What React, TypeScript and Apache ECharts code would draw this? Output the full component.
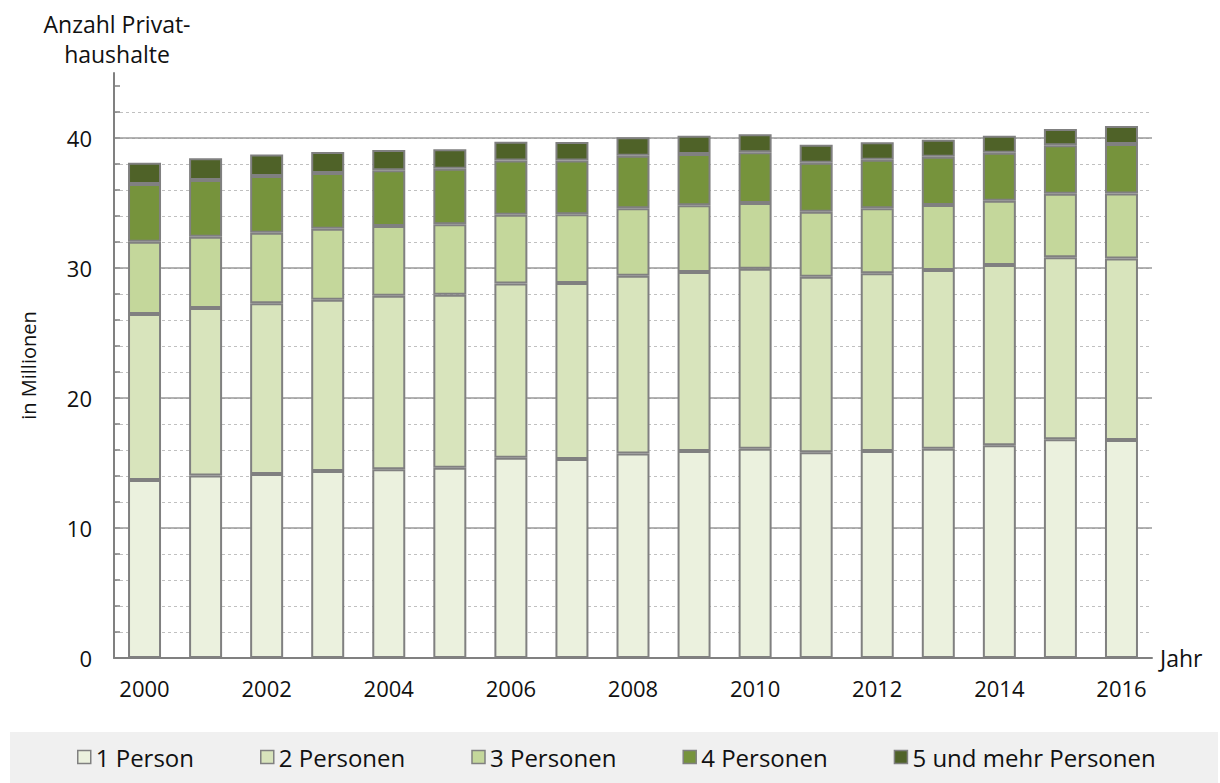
import React, { useEffect, useRef } from "react";
import * as echarts from "echarts";

const years = ["2000", "2001", "2002", "2003", "2004", "2005", "2006", "2007", "2008", "2009", "2010", "2011", "2012", "2013", "2014", "2015", "2016"];
const onePerson = [13.69, 14.03, 14.15, 14.38, 14.51, 14.64, 15.41, 15.31, 15.74, 15.92, 16.10, 15.82, 15.92, 16.10, 16.36, 16.82, 16.77];
const twoPersons = [12.77, 12.89, 13.13, 13.18, 13.36, 13.31, 13.39, 13.54, 13.67, 13.77, 13.85, 13.51, 13.67, 13.75, 13.87, 14.00, 13.97];
const threePersons = [5.56, 5.49, 5.44, 5.46, 5.36, 5.41, 5.30, 5.28, 5.18, 5.13, 5.05, 5.00, 5.00, 5.00, 4.95, 4.90, 5.00];
const fourPersons = [4.44, 4.36, 4.36, 4.29, 4.28, 4.28, 4.16, 4.13, 4.05, 3.95, 3.90, 3.77, 3.74, 3.71, 3.69, 3.72, 3.80];
const fivePlus = [1.64, 1.67, 1.66, 1.61, 1.57, 1.49, 1.46, 1.43, 1.41, 1.41, 1.38, 1.39, 1.34, 1.31, 1.31, 1.25, 1.38];

const seriesNames = ["1 Person", "2 Personen", "3 Personen", "4 Personen", "5 und mehr Personen"];
const seriesColors = ["#EBF1DE", "#D8E4BC", "#C4D79B", "#76933C", "#4F6228"];
const minorTickValues = [0, 2, 4, 6, 8, 10, 12, 14, 16, 18, 20, 22, 24, 26, 28, 30, 32, 34, 36, 38, 40, 42, 44];

const FONT = "'Open Sans', sans-serif";

export default function App() {
  const ref = useRef<HTMLDivElement>(null);
  useEffect(() => {
    if (!ref.current) return;
    const chart = echarts.init(ref.current, undefined, { renderer: "svg" });
    const data = [onePerson, twoPersons, threePersons, fourPersons, fivePlus];
    chart.setOption({
      animation: false,
      backgroundColor: "#ffffff",
      textStyle: { fontFamily: FONT },
      title: {
        text: "Anzahl Privat-\nhaushalte",
        left: 112,
        top: 4,
        textAlign: "center",
        textStyle: { fontFamily: FONT, fontSize: 23, fontWeight: "normal", color: "#111", lineHeight: 30 },
      },
      graphic: [
        {
          type: "rect",
          z: 0,
          shape: { x: 10, y: 732, width: 1208, height: 51 },
          style: { fill: "#F0F0F0" },
        },
      ],
      legend: {
        left: 77,
        top: 745,
        padding: 0,
        itemGap: 66,
        itemWidth: 13,
        itemHeight: 13,
        icon: "rect",
        itemStyle: { borderColor: "#808080", borderWidth: 1.5 },
        textStyle: { fontFamily: FONT, fontSize: 24, color: "#111", lineHeight: 24 },
        data: seriesNames,
      },
      grid: { left: 114, right: 68, top: 73, bottom: 125 },
      xAxis: {
        type: "category",
        data: years,
        name: "Jahr",
        nameLocation: "end",
        nameGap: 8,
        nameTextStyle: { fontFamily: FONT, fontSize: 23, color: "#111", verticalAlign: "middle" },
        axisLine: { lineStyle: { color: "#808080", width: 2 } },
        axisTick: { show: false },
        axisLabel: { interval: 1, fontSize: 22, color: "#111", margin: 19, fontFamily: FONT },
        splitLine: { show: false },
      },
      yAxis: [
        {
          type: "value",
          min: 0,
          max: 45,
          interval: 10,
          name: "in Millionen",
          nameLocation: "middle",
          nameRotate: 90,
          nameGap: 76,
          nameTextStyle: { fontFamily: FONT, fontSize: 20, color: "#111" },
          axisLine: { show: true, lineStyle: { color: "#808080", width: 2 } },
          axisTick: { show: false },
          axisLabel: { showMaxLabel: false, fontSize: 22, color: "#111", margin: 22, fontFamily: FONT },
          splitLine: { show: true, showMaxLine: false, showMinLine: false, lineStyle: { color: "#9A9A9A", width: 1.5 } },
          z: 3,
        },
        {
          type: "value",
          position: "left",
          min: 0,
          max: 45,
          interval: 2,
          axisLine: { show: false },
          axisTick: { show: true, inside: true, length: 6, customValues: minorTickValues, lineStyle: { color: "#808080", width: 1.5 } },
          axisLabel: { show: false },
          splitLine: { show: true, showMaxLine: false, showMinLine: false, lineStyle: { color: "#C0C0C0", width: 1, type: [3, 3] } },
        },
      ],
      series: seriesNames.map((name, i) => ({
        name,
        type: "bar",
        stack: "total",
        yAxisIndex: 0,
        barWidth: 33,
        data: data[i],
        itemStyle: { color: seriesColors[i], borderColor: "#808080", borderWidth: 2 },
        z: 4,
      })),
    });
    return () => chart.dispose();
  }, []);
  return <div ref={ref} style={{ position: "fixed", left: 0, top: 0, width: 1220, height: 783 }} />;
}
